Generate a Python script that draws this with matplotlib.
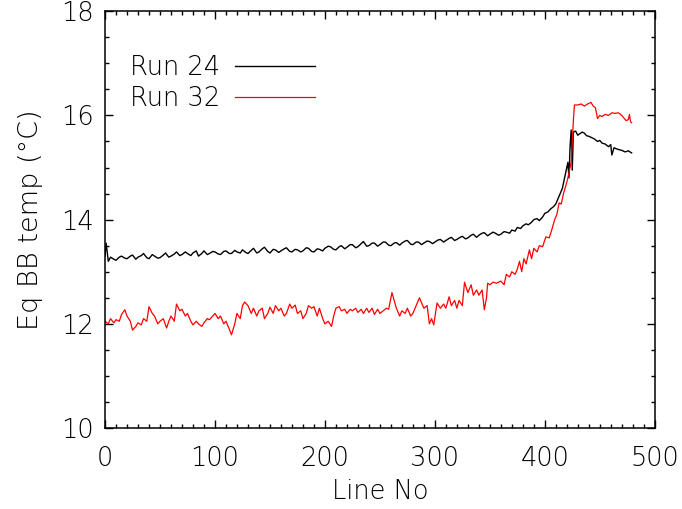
import matplotlib
matplotlib.use('Agg')
import matplotlib.pyplot as plt
from matplotlib.ticker import MultipleLocator

# Run 24 (black)
run24_x = [0, 1, 3, 5, 8, 10, 13, 15, 18, 20, 23, 25,
           28, 30, 33, 35, 38, 40, 43, 45, 48, 50, 53, 55,
           58, 60, 63, 65, 68, 70, 73, 75, 78, 80, 83, 85,
           88, 90, 93, 95, 98, 100, 103, 105, 108, 110, 113, 115,
           118, 120, 123, 125, 128, 130, 133, 135, 138, 140, 143, 145,
           148, 150, 153, 155, 158, 160, 163, 165, 168, 170, 173, 175,
           178, 180, 183, 185, 188, 190, 193, 195, 198, 200, 203, 205,
           208, 210, 213, 215, 218, 220, 223, 225, 228, 230, 233, 235,
           238, 240, 243, 245, 248, 250, 253, 255, 258, 260, 263, 265,
           268, 270, 273, 275, 278, 280, 283, 285, 288, 290, 293, 295,
           298, 300, 303, 305, 308, 310, 313, 315, 318, 320, 323, 325,
           328, 330, 333, 335, 338, 340, 343, 345, 348, 350, 353, 355,
           358, 360, 363, 365, 368, 370, 373, 375, 378, 380, 383, 385,
           388, 390, 393, 395, 398, 400, 403, 405, 408, 410, 413, 416,
           419, 421, 422, 423, 424, 425, 426, 428, 430, 432, 434, 436,
           438, 440, 443, 445, 448, 450, 452, 455, 458, 460, 461, 463,
           465, 468, 470, 473, 476, 479]
run24_y = [13.30, 13.55, 13.20, 13.28, 13.24, 13.22, 13.28, 13.30, 13.26, 13.25, 13.30, 13.32,
           13.24, 13.28, 13.31, 13.35, 13.27, 13.25, 13.33, 13.30, 13.26, 13.27, 13.32, 13.36,
           13.28, 13.30, 13.34, 13.38, 13.31, 13.33, 13.38, 13.35, 13.31, 13.36, 13.40, 13.30,
           13.35, 13.40, 13.33, 13.35, 13.39, 13.38, 13.34, 13.33, 13.39, 13.40, 13.35, 13.35,
           13.41, 13.38, 13.36, 13.42, 13.37, 13.35, 13.41, 13.45, 13.36, 13.38, 13.44, 13.47,
           13.39, 13.36, 13.43, 13.42, 13.37, 13.40, 13.44, 13.46, 13.39, 13.38, 13.43, 13.42,
           13.38, 13.40, 13.46, 13.45, 13.39, 13.38, 13.44, 13.43, 13.40, 13.45, 13.49, 13.48,
           13.43, 13.42, 13.48, 13.50, 13.44, 13.47, 13.52, 13.52, 13.46, 13.48, 13.54, 13.58,
           13.49, 13.50, 13.55, 13.55, 13.49, 13.52, 13.57, 13.57, 13.51, 13.50, 13.55, 13.56,
           13.51, 13.55, 13.59, 13.60, 13.53, 13.52, 13.57, 13.57, 13.52, 13.55, 13.59, 13.58,
           13.54, 13.57, 13.61, 13.62, 13.57, 13.60, 13.64, 13.66, 13.60, 13.62, 13.66, 13.68,
           13.63, 13.65, 13.70, 13.72, 13.66, 13.70, 13.74, 13.75, 13.69, 13.72, 13.76, 13.74,
           13.70, 13.72, 13.77, 13.76, 13.74, 13.80, 13.78, 13.85, 13.83, 13.88, 13.92, 13.90,
           13.95, 14.00, 14.02, 13.98, 14.05, 14.12, 14.15, 14.20, 14.25, 14.30, 14.45, 14.60,
           14.90, 15.10, 14.80, 15.40, 15.72, 14.95, 15.68, 15.70, 15.62, 15.65, 15.68, 15.66,
           15.61, 15.60, 15.57, 15.55, 15.50, 15.52, 15.47, 15.45, 15.40, 15.44, 15.24, 15.38,
           15.36, 15.34, 15.33, 15.30, 15.32, 15.28]

# Run 32 (red)
run32_x = [0, 3, 5, 8, 10, 13, 15, 18, 20, 23, 25, 28,
           30, 33, 35, 38, 40, 43, 45, 48, 50, 53, 56, 58,
           60, 63, 65, 68, 70, 73, 75, 78, 80, 83, 85, 88,
           90, 93, 95, 98, 100, 103, 105, 108, 110, 113, 115, 118,
           120, 123, 125, 127, 130, 133, 135, 138, 140, 143, 145, 148,
           150, 153, 155, 158, 160, 163, 165, 168, 170, 173, 175, 178,
           180, 183, 185, 188, 190, 193, 195, 198, 200, 203, 206, 208,
           210, 213, 215, 218, 220, 223, 225, 228, 230, 233, 235, 238,
           240, 243, 245, 248, 250, 253, 256, 258, 261, 263, 265, 268,
           270, 273, 275, 278, 280, 283, 286, 288, 290, 293, 295, 297,
           299, 302, 305, 308, 310, 313, 315, 318, 320, 322, 325, 327,
           330, 333, 335, 338, 340, 343, 345, 347, 348, 350, 353, 356,
           360, 363, 365, 368, 370, 373, 375, 377, 379, 381, 383, 386,
           388, 390, 393, 395, 398, 401, 404, 406, 409, 411, 413, 415,
           417, 419, 421, 423, 424, 425, 426, 427, 430, 433, 436, 439,
           442, 444, 446, 448, 450, 452, 455, 458, 461, 464, 467, 470,
           472, 474, 476, 477, 478, 479]
run32_y = [12.05, 12.00, 12.10, 12.02, 12.08, 12.05, 12.18, 12.27, 12.15, 12.05, 11.88, 11.95,
           12.02, 11.98, 12.10, 12.05, 12.33, 12.20, 12.15, 12.00, 12.05, 12.10, 11.92, 12.05,
           12.15, 12.05, 12.38, 12.25, 12.28, 12.15, 12.20, 12.05, 11.98, 12.05, 12.00, 11.95,
           12.02, 12.10, 12.08, 12.15, 12.20, 12.10, 12.15, 12.00, 12.05, 11.90, 11.79, 12.00,
           12.20, 12.10, 12.35, 12.42, 12.35, 12.20, 12.30, 12.15, 12.25, 12.30, 12.10, 12.20,
           12.32, 12.20, 12.35, 12.25, 12.30, 12.15, 12.20, 12.38, 12.30, 12.36, 12.20, 12.25,
           12.10, 12.20, 12.35, 12.30, 12.33, 12.15, 12.30, 12.10, 12.00, 12.05, 11.95, 12.15,
           12.30, 12.33, 12.25, 12.28, 12.20, 12.28, 12.25, 12.30, 12.22, 12.28, 12.20, 12.30,
           12.22, 12.30, 12.18, 12.28, 12.20, 12.25, 12.30, 12.28, 12.60, 12.45, 12.30, 12.15,
           12.25, 12.20, 12.30, 12.15, 12.20, 12.35, 12.50, 12.40, 12.30, 12.35, 12.00, 12.10,
           11.98, 12.40, 12.30, 12.38, 12.30, 12.52, 12.35, 12.45, 12.30, 12.45, 12.35, 12.80,
           12.60, 12.75, 12.55, 12.65, 12.55, 12.65, 12.27, 12.50, 12.78, 12.75, 12.80, 12.78,
           12.82, 12.75, 12.95, 12.90, 13.00, 12.95, 13.05, 13.20, 13.00, 13.25, 13.15, 13.42,
           13.25, 13.45, 13.38, 13.50, 13.48, 13.67, 13.65, 13.78, 14.00, 14.10, 14.32, 14.30,
           14.50, 14.64, 14.80, 15.00, 15.10, 15.50, 15.90, 16.20, 16.20, 16.22, 16.18, 16.22,
           16.25, 16.18, 16.15, 15.94, 16.00, 15.98, 16.02, 16.00, 16.05, 16.04, 16.05, 16.00,
           15.95, 15.90, 15.92, 16.02, 15.88, 15.86]

series_labels = ['Run 24', 'Run 32']
series_colors = ['black', 'red']

plt.rcParams['font.family'] = ['DejaVu Sans']
plt.rcParams['font.weight'] = 'light'
plt.rcParams['axes.labelweight'] = 'light'
plt.rcParams['font.size'] = 18.5

fig = plt.figure(figsize=(6.82, 5.09), dpi=100)
ax = fig.add_axes([0.154, 0.159, 0.806, 0.819])

ax.plot(run24_x, run24_y, color=series_colors[0], lw=1.0, label=series_labels[0])
ax.plot(run32_x, run32_y, color=series_colors[1], lw=0.9, label=series_labels[1])

ax.set_xlim(0, 500)
ax.set_ylim(10, 18)
ax.xaxis.set_major_locator(MultipleLocator(100))
ax.xaxis.set_minor_locator(MultipleLocator(10))
ax.yaxis.set_major_locator(MultipleLocator(2))
ax.yaxis.set_minor_locator(MultipleLocator(0.5))
ax.tick_params(which='both', direction='in', top=True, right=True, width=1.0)
ax.tick_params(which='major', length=6)
ax.tick_params(which='minor', length=3)
ax.tick_params(axis='x', which='major', pad=13)
ax.tick_params(axis='y', which='major', pad=8)
for s in ax.spines.values():
    s.set_linewidth(1.1)

ax.set_xlabel('Line No', labelpad=6)
ax.set_ylabel('Eq BB temp (°C)', labelpad=13, fontsize=19.5)

ax.legend(loc='upper left', bbox_to_anchor=(0.045, 0.895), frameon=False, markerfirst=False,
          handlelength=3.1, handletextpad=0.6, labelspacing=0.22, borderpad=0, borderaxespad=0)

fig.savefig('out.png', dpi=100)
